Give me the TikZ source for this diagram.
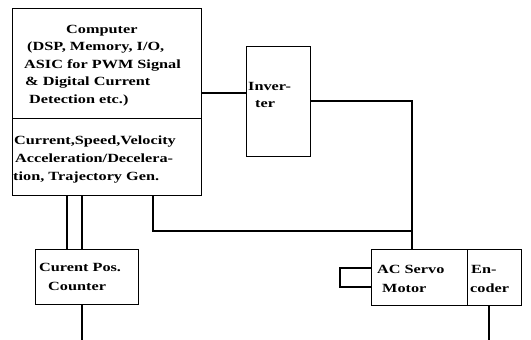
\documentclass[tikz,border=0pt]{standalone}
\usepackage{fontspec}
\setmainfont{Liberation Serif}[FakeStretch=1.3]
\usetikzlibrary{calc}
\begin{document}
\begin{tikzpicture}[x=1pt,y=1pt,
  box/.style={draw,line width=1.1pt,rectangle,inner sep=0pt,anchor=north west},
  wire/.style={draw,line width=1.1pt},
  lbl/.style={anchor=base west,inner sep=0pt,font=\fontsize{12.5}{17.5}\selectfont\bfseries}]
\useasboundingbox (0,0) rectangle (531,-340);
% boxes
\node[box,minimum width=189pt,minimum height=110pt] (compA) at (12,-8) {};
\node[box,minimum width=189pt,minimum height=77pt] (compB) at (12,-118) {};
\node[box,minimum width=64pt,minimum height=110pt] (inv) at (246,-46) {};
\node[box,minimum width=103pt,minimum height=55pt] (cnt) at (35,-249) {};
\node[box,minimum width=96pt,minimum height=56pt] (mot) at (371,-249) {};
\node[box,minimum width=54pt,minimum height=56pt] (enc) at (467,-249) {};
% texts
\node[lbl] (t1) at (66,-33) {Computer};
\node[lbl] (t2) at (27,-50.5) {(DSP, Memory, I/O,};
\node[lbl] (t3) at (24,-68) {ASIC for PWM Signal};
\node[lbl] (t4) at (25,-85.5) {\& Digital Current};
\node[lbl] (t5) at (29,-103) {Detection etc.)};
\node[lbl] (t6) at (14,-144) {Current,Speed,Velocity};
\node[lbl] (t7) at (15,-162) {Acceleration/Decelera-};
\node[lbl] (t8) at (13,-180) {tion, Trajectory Gen.};
\node[lbl] (t9) at (248,-90) {Inver-};
\node[lbl] (t10) at (255,-107) {ter};
\node[lbl] (t11) at (39,-271) {Curent Pos.};
\node[lbl] (t12) at (48,-290) {Counter};
\node[lbl] (t13) at (377,-273) {AC Servo};
\node[lbl] (t14) at (382,-292) {Motor};
\node[lbl] (t15) at (471,-273) {En-};
\node[lbl] (t16) at (470,-292) {coder};
% junction coordinates
\coordinate (j1) at (412,-101);
\coordinate (j2) at (153,-231);
\coordinate (j3) at (412,-231);
\coordinate (e1) at (82,-340);
\coordinate (e2) at (489,-340);
\coordinate (s1) at (340,-268);
\coordinate (s2) at (340,-287);
% connectors
\draw[wire] ($(compA.north east)+(0,-85)$) -- ($(inv.north west)+(0,-47)$);
\draw[wire] ($(inv.north east)+(0,-55)$) -- (j1) -- (j1 |- mot.north);
\draw[wire] (compB.south -| j2) -- (j2) -- (j3);
\draw[wire] ($(compB.south west)+(55,0)$) -- ($(cnt.north west)+(32,0)$);
\draw[wire] ($(compB.south west)+(70,0)$) -- ($(cnt.north west)+(47,0)$);
\draw[wire] (cnt.south -| e1) -- (e1);
\draw[wire] (mot.west |- s1) -- (s1) -- (s2) -- (mot.west |- s2);
\draw[wire] (enc.south -| e2) -- (e2);
\end{tikzpicture}
\end{document}
